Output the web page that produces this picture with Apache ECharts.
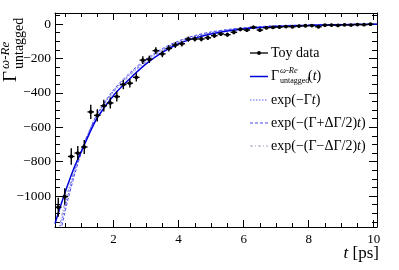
<!DOCTYPE html>
<html><head><meta charset="utf-8">
<script src="https://cdn.jsdelivr.net/npm/echarts@6/dist/echarts.min.js"></script>
<style>html,body{margin:0;padding:0;background:#fff}#c{width:399px;height:270px}</style>
</head><body><div id="c"></div>
<script>
// ---- data ----
const binCenters = [0.3,0.5,0.7,0.9,1.1,1.3,1.5,1.7,1.9,2.1,2.3,2.5,2.7,2.9,3.1,3.3,3.5,3.7,3.9,4.1,4.3,4.5,4.7,4.9,5.1,5.3,5.5,5.7,5.9,6.1,6.3,6.5,6.7,6.9,7.1,7.3,7.5,7.7,7.9,8.1,8.3,8.5,8.7,8.9,9.1,9.3,9.5,9.7,9.9];
const toyValues = [-1065,-1003,-770,-750,-715,-511,-531,-475,-459,-422,-352,-344,-310,-210,-205,-155,-174,-142,-122,-115,-88,-87,-87,-80,-68,-58,-62,-48,-31,-35,-19,-35,-22,-20,-18,-15,-16,-12,-10,-9,-16,-7,-6,-8,-5,-6,-3,-4,-1];
const toyErrors = [55,48,48,41,41,41,36,34,32,29,27,25,24,22,21,20,19,18,17,16,15,15,14,13,13,12,12,11,11,10,10,10,9,9,9,8,8,8,8,7,7,7,7,7,6,6,6,6,6];
const binHalfWidth = 0.1;

const curveT = [0.2,0.3,0.4,0.5,0.6,0.8,1.0,1.25,1.5,2.0,2.5,3.0,3.5,4.0,4.5,5.0,5.5,6.0,6.5,7.0,8.0,9.0,10.1];
const fitValues      = [-1160,-1100,-1040,-985,-930,-830,-745,-640,-545,-415,-318,-232,-165,-115,-82,-58,-41,-29,-21,-15,-8,-4,-1];
const expGammaValues = [-1330,-1240,-1150,-1070,-995,-860,-745,-625,-525,-390,-292,-212,-150,-104,-72,-50,-35,-24,-17,-12,-6,-3,-1];
const expPlusValues  = [-1370,-1275,-1185,-1100,-1020,-878,-755,-628,-522,-383,-284,-204,-143,-98,-67,-46,-32,-22,-15,-10,-5,-2,-1];
const expMinusValues = [-1295,-1208,-1120,-1042,-972,-845,-736,-622,-528,-396,-299,-219,-156,-109,-76,-53,-37,-26,-18,-13,-7,-3,-1];

const xMajorTicks = [2,4,6,8,10];
const xMinorTicks = [0.5,1,1.5,2.5,3,3.5,4.5,5,5.5,6.5,7,7.5,8.5,9,9.5,10];
const yMajorTicks = [-1000,-800,-600,-400,-200,0];
const yMinorTicks = [-1150,-1100,-1050,-950,-900,-850,-750,-700,-650,-550,-500,-450,-350,-300,-250,-150,-100,-50,50];

const legendLabels = ['Toy data','exp(\u2212\u0393{i|t})','exp(\u2212(\u0393+\u0394\u0393/2){i|t})','exp(\u2212(\u0393\u2212\u0394\u0393/2){i|t})'];

// ---- chart ----
const FONT = 'Liberation Serif';
const X_MIN = 0.2, X_MAX = 10.1, Y_MIN = -1180, Y_MAX = 64;
const fmtY = v => v < 0 ? '\u2212' + (-v) : String(v);

function xAxisDef(pos, ticks, len, labels, line) {
  return {
    type: 'value', min: X_MIN, max: X_MAX, position: pos, gridIndex: 0,
    axisLine: { show: line, onZero: false, lineStyle: { color: '#000', width: 1 } },
    axisTick: { show: true, inside: true, length: len, customValues: ticks, lineStyle: { color: '#000', width: 1 } },
    axisLabel: labels ? { show: true, customValues: ticks, color: '#000', fontFamily: FONT, fontSize: 13, margin: 6 } : { show: false },
    splitLine: { show: false }
  };
}
function yAxisDef(pos, ticks, len, labels, line) {
  return {
    type: 'value', min: Y_MIN, max: Y_MAX, position: pos, gridIndex: 0,
    axisLine: { show: line, onZero: false, lineStyle: { color: '#000', width: 1 } },
    axisTick: { show: true, inside: true, length: len, customValues: ticks, lineStyle: { color: '#000', width: 1 } },
    axisLabel: labels ? { show: true, customValues: ticks, color: '#000', fontFamily: FONT, fontSize: 13.5, margin: 4, formatter: fmtY } : { show: false },
    splitLine: { show: false }
  };
}

const chart = echarts.init(document.getElementById('c'), null, { renderer: 'canvas' });

const lineSeries = (name, vals, color, width, type, z) => ({
  name, type: 'line', xAxisIndex: 0, yAxisIndex: 0,
  data: curveT.map((t, i) => [t, vals[i]]),
  smooth: 0.3, showSymbol: false, clip: true, z,
  lineStyle: { color, width, type }, silent: true, animation: false
});

const legendX0 = 250, legendX1 = 268, legendTextX = 271;
const legendY = [53, 76.5, 100, 123, 146];
const legendStyles = [
  null,
  { stroke: '#0000dd', lineWidth: 1.5, lineDash: null },
  { stroke: '#5a5aff', lineWidth: 1, lineDash: [1.5, 1.5] },
  { stroke: '#4848ee', lineWidth: 1, lineDash: [3, 2] },
  { stroke: '#a0a0d0', lineWidth: 1.2, lineDash: [3, 2, 1, 2] }
];
const richBase = { i: { fontFamily: FONT, fontStyle: 'italic', fontSize: 14, fill: '#000' } };
const graphics = [];
// Toy data legend
graphics.push({ type: 'line', shape: { x1: legendX0, y1: legendY[0], x2: legendX1, y2: legendY[0] }, style: { stroke: '#000', lineWidth: 1.3 } });
graphics.push({ type: 'circle', shape: { cx: (legendX0 + legendX1) / 2, cy: legendY[0], r: 1.9 }, style: { fill: '#000' } });
graphics.push({ type: 'text', x: legendTextX, y: legendY[0], style: { text: legendLabels[0], fontFamily: FONT, fontSize: 14, fill: '#000', verticalAlign: 'middle' } });
// fit legend
graphics.push({ type: 'line', shape: { x1: legendX0, y1: legendY[1], x2: legendX1, y2: legendY[1] }, style: legendStyles[1] });
graphics.push({ type: 'text', x: legendTextX, y: legendY[1], style: { text: '\u0393', fontFamily: FONT, fontSize: 14, fill: '#000', verticalAlign: 'middle' } });
graphics.push({ type: 'text', x: legendTextX + 9, y: legendY[1] - 6, style: { text: '\u03c9-Re', fontFamily: FONT, fontStyle: 'italic', fontSize: 8.5, fill: '#000', verticalAlign: 'middle' } });
graphics.push({ type: 'text', x: legendTextX + 9, y: legendY[1] + 4, style: { text: 'untagged', fontFamily: FONT, fontSize: 8, fill: '#000', verticalAlign: 'middle' } });
graphics.push({ type: 'text', x: legendTextX + 37, y: legendY[1], style: { text: '({i|t})', rich: richBase, fontFamily: FONT, fontSize: 14, fill: '#000', verticalAlign: 'middle' } });
for (let k = 1; k < 4; k++) {
  graphics.push({ type: 'line', shape: { x1: legendX0, y1: legendY[k + 1], x2: legendX1, y2: legendY[k + 1] }, style: legendStyles[k + 1] });
  graphics.push({ type: 'text', x: legendTextX, y: legendY[k + 1], style: { text: legendLabels[k], rich: richBase, fontFamily: FONT, fontSize: 14, fill: '#000', verticalAlign: 'middle' } });
}
// y axis title (rotated)
graphics.push({
  type: 'group', x: 21, y: 82, rotation: Math.PI / 2,
  children: [
    { type: 'text', x: 0, y: 0, style: { text: '\u0393', fontFamily: FONT, fontSize: 19, fill: '#000', verticalAlign: 'bottom' } },
    { type: 'text', x: 13, y: -9, style: { text: '\u03c9-Re', fontFamily: FONT, fontStyle: 'italic', fontSize: 13, fill: '#000', verticalAlign: 'bottom' } },
    { type: 'text', x: 13, y: 5, style: { text: 'untagged', fontFamily: FONT, fontSize: 14, fill: '#000', verticalAlign: 'bottom' } }
  ]
});
// x axis title
graphics.push({ type: 'text', x: 379, y: 254, style: { text: '{i|t} [ps]', rich: { i: { fontFamily: FONT, fontStyle: 'italic', fontSize: 17, fill: '#000' } }, fontFamily: FONT, fontSize: 17, fill: '#000', align: 'right', verticalAlign: 'middle' } });

chart.setOption({
  animation: false,
  backgroundColor: '#fff',
  grid: { left: 55, right: 22, top: 13, bottom: 43, containLabel: false },
  xAxis: [
    xAxisDef('bottom', xMajorTicks, 7, true, true),
    xAxisDef('bottom', xMinorTicks, 4, false, false),
    xAxisDef('top', xMajorTicks, 7, false, true),
    xAxisDef('top', xMinorTicks, 4, false, false)
  ],
  yAxis: [
    yAxisDef('left', yMajorTicks, 8, true, true),
    yAxisDef('left', yMinorTicks, 5, false, false),
    yAxisDef('right', yMajorTicks, 8, false, true),
    yAxisDef('right', yMinorTicks, 5, false, false)
  ],
  series: [
    lineSeries('exp(-(Γ-ΔΓ/2)t)', expMinusValues, '#a0a0d0', 1.2, [3, 2, 1, 2], 2),
    lineSeries('exp(-(Γ+ΔΓ/2)t)', expPlusValues, '#4848ee', 1, [3, 2], 3),
    lineSeries('exp(-Γt)', expGammaValues, '#5a5aff', 1, [1.5, 1.5], 4),
    lineSeries('Γ untagged(t)', fitValues, '#0000dd', 1.5, 'solid', 5),
    {
      name: 'Toy data', type: 'custom', xAxisIndex: 0, yAxisIndex: 0, z: 10, clip: true,
      data: binCenters.map((t, i) => [t, toyValues[i], toyErrors[i]]),
      renderItem: function (params, api) {
        const x = api.value(0), y = api.value(1), e = api.value(2);
        const c = api.coord([x, y]);
        const t = api.coord([x, y + e]), b = api.coord([x, y - e]);
        const l = api.coord([x - binHalfWidth, y]), r = api.coord([x + binHalfWidth, y]);
        return { type: 'group', children: [
          { type: 'line', shape: { x1: l[0], y1: l[1], x2: r[0], y2: r[1] }, style: { stroke: '#000', lineWidth: 1.4 } },
          { type: 'line', shape: { x1: t[0], y1: t[1], x2: b[0], y2: b[1] }, style: { stroke: '#000', lineWidth: 1.4 } },
          { type: 'circle', shape: { cx: c[0], cy: c[1], r: 1.9 }, style: { fill: '#000' } }
        ] };
      }
    }
  ],
  graphic: graphics
});
</script></body></html>
